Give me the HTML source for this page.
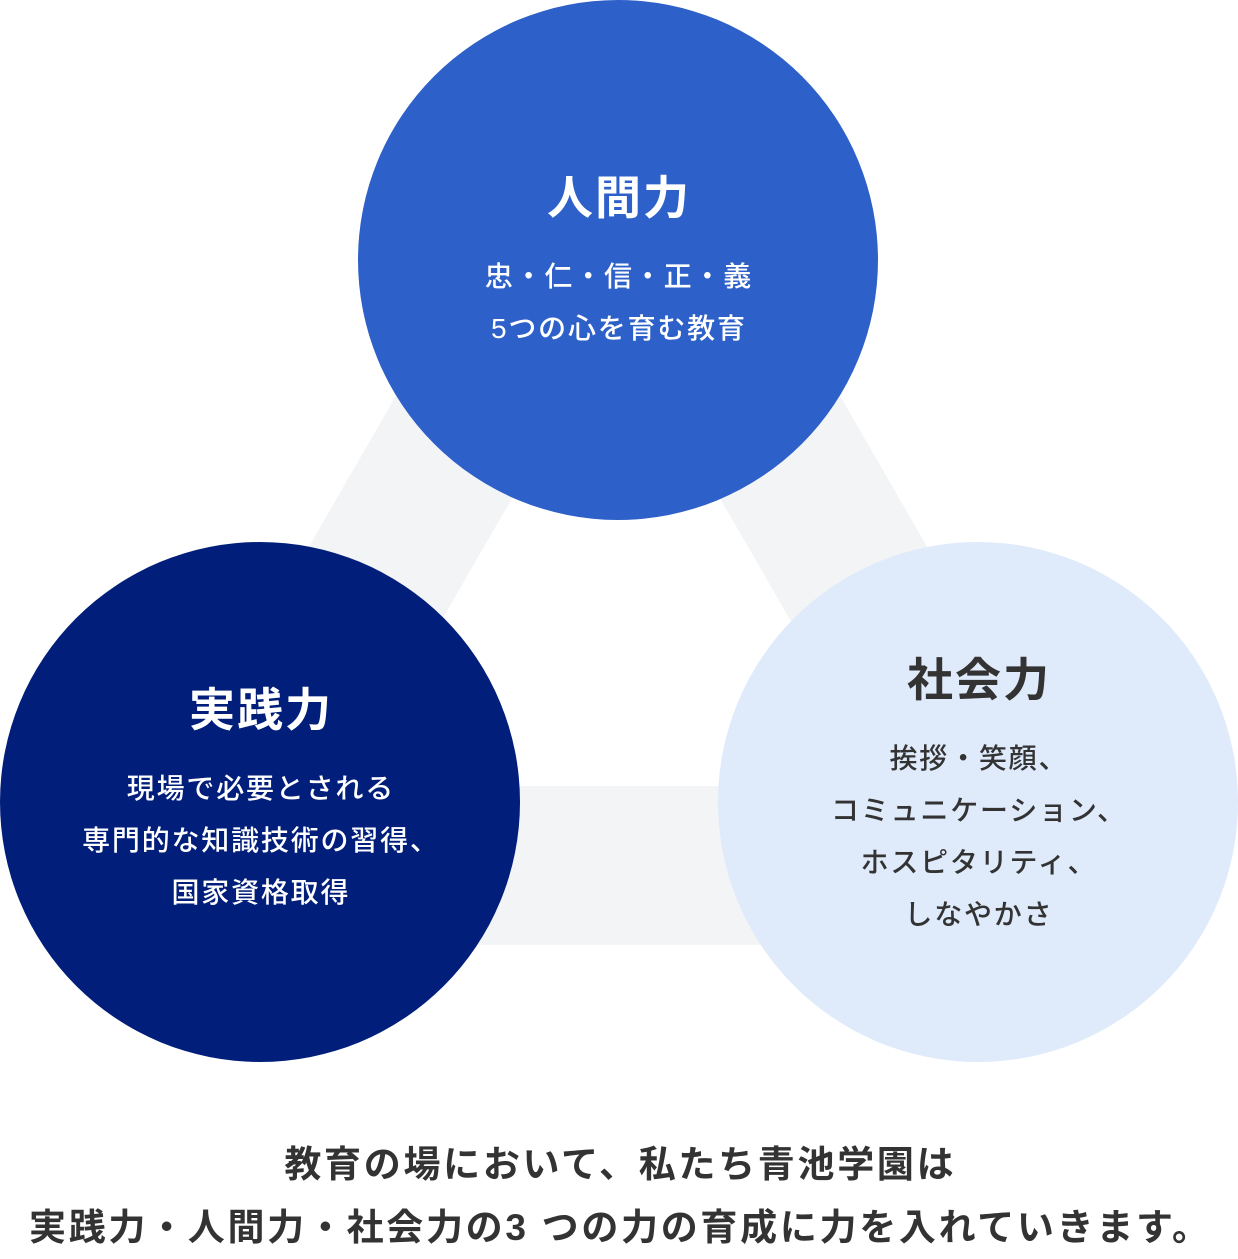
<!DOCTYPE html>
<html><head><meta charset="utf-8"><style>
html,body{margin:0;padding:0;background:#fff;}
body{width:1238px;height:1258px;position:relative;overflow:hidden;font-family:"Liberation Sans","Noto Sans CJK JP",sans-serif;}
.c{position:absolute;width:520px;height:520px;border-radius:50%;text-align:center;}
.t{position:absolute;left:0;right:0;font-weight:bold;font-size:46px;letter-spacing:2px;padding-left:2px;}
.s{position:absolute;left:0;right:0;font-size:28px;line-height:52px;font-weight:500;letter-spacing:1.8px;padding-left:1.8px;}
.b{position:absolute;left:0;right:0;text-align:center;font-weight:bold;font-size:37px;color:#333;line-height:63px;letter-spacing:2.7px;padding-left:2.7px;}
</style></head><body>
<svg width="1238" height="1258" style="position:absolute;left:0;top:0">
<path fill-rule="evenodd" fill="#f2f4f6" d="M618,11 L1157,945 L79,945 Z M616,318 L886,786 L346,786 Z"/>
</svg>
<div class="c" style="left:358px;top:0;background:#2d60c8;color:#fff">
<div class="t" style="top:162px">人間力</div>
<div class="s" style="top:251px">忠・仁・信・正・義<br>5つの心を育む教育</div>
</div>
<div class="c" style="left:0;top:542px;background:#011e7a;color:#fff">
<div class="t" style="top:132px">実践力</div>
<div class="s" style="top:221px">現場で必要とされる<br>専門的な知識技術の習得、<br>国家資格取得</div>
</div>
<div class="c" style="left:718px;top:542px;background:#dfeafb;color:#333">
<div class="t" style="top:102px">社会力</div>
<div class="s" style="top:191px">挨拶・笑顔、<br>コミュニケーション、<br>ホスピタリティ、<br>しなやかさ</div>
</div>
<div class="b" style="top:1133px">教育の場において、私たち青池学園は<br>実践力・人間力・社会力の3 つの力の育成に力を入れていきます。</div>
</body></html>
